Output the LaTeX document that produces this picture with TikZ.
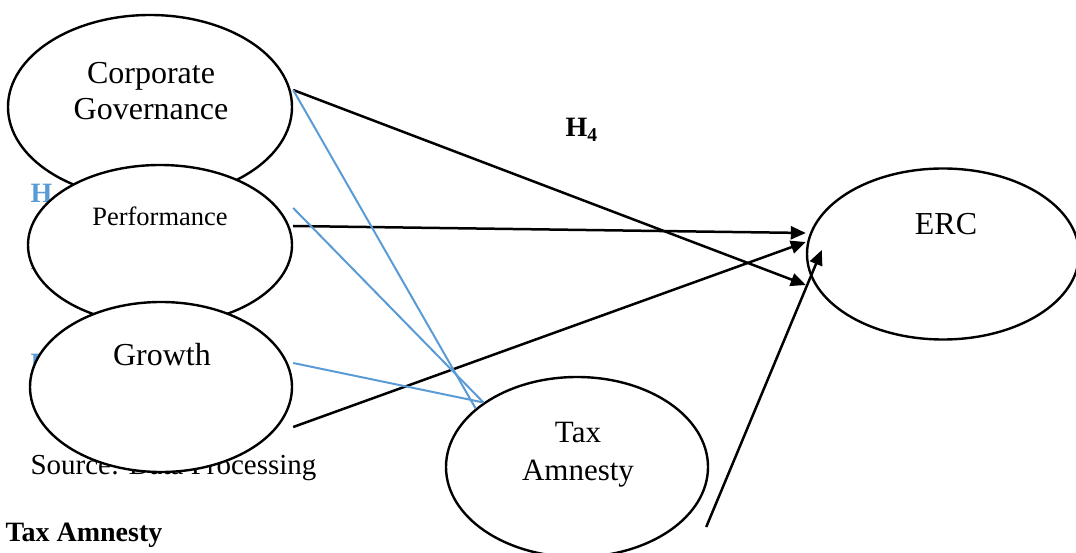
\documentclass[tikz,border=0pt]{standalone}
\usepackage{fontspec}
\setmainfont{Liberation Serif}
\usetikzlibrary{arrows.meta,shapes.geometric}
\definecolor{hblue}{RGB}{91,155,213}

\begin{document}
\begin{tikzpicture}[
        x=1pt, y=-1pt,
        construct/.style={ellipse, draw, line width=2.4pt, fill=white, inner sep=0pt},
        construct_text/.style={anchor=base, align=center, font=\fontsize{32}{36}\selectfont},
        hyp_label/.style={anchor=base west, font=\fontsize{28}{30}\selectfont\bfseries, text=hblue},
        path_line/.style={line width=2.5pt, -{Triangle[length=15pt,width=13pt]}},
        mod_line/.style={line width=2pt, draw=hblue}
    ]
        \useasboundingbox (0,0) rectangle (1076,553);

        % labels that sit behind the ovals
        \node[hyp_label] (h1) at (27,203) {H\textsubscript{1}};
        \node[hyp_label] (h2) at (27,270) {H\textsubscript{2}};
        \node[hyp_label] (h3) at (27,372) {H\textsubscript{3}};
        \node[anchor=base west, font=\fontsize{29}{32}\selectfont] (source) at (27,474) {Source: Data Processing};

        % independent variables
        \node[construct, minimum width=284pt, minimum height=184pt] (corpgov) at (150,107) {};
        \node[construct_text] (corpgov_txt) at (151,120) {Corporate\\Governance};
        \node[construct, minimum width=264pt, minimum height=160pt] (perf) at (160,245) {};
        \node[construct_text, font=\fontsize{26.5}{30}\selectfont] (perf_txt) at (160,226) {Performance};
        \node[construct, minimum width=262pt, minimum height=170pt] (growth) at (161,387) {};
        \node[construct_text] (growth_txt) at (162,365) {Growth};

        % dependent variable and moderator
        \node[construct, minimum width=272pt, minimum height=171pt] (erc) at (943,254) {};
        \node[construct_text] (erc_txt) at (946,235) {ERC};
        \node[construct, minimum width=262pt, minimum height=180pt] (tax) at (577,467) {};
        \node[construct_text, font=\fontsize{31}{38}\selectfont] (tax_txt) at (578,480) {Tax\\Amnesty};

        \node[anchor=base west, font=\fontsize{28}{30}\selectfont\bfseries] (h4) at (562,137) {H\textsubscript{4}};
        \node[anchor=base west, font=\fontsize{28}{30}\selectfont\bfseries] (mod_title) at (2,541) {Tax Amnesty};

        % direct effects
        \draw[path_line] ([yshift=17pt]corpgov.east) -- ([yshift=-31pt]erc.west);
        \draw[path_line] ([yshift=19pt]perf.east) -- ([yshift=21pt]erc.west);
        \draw[path_line] ([yshift=-40pt]growth.east) -- ([yshift=12pt]erc.west);
        \draw[path_line] ([xshift=-3pt,yshift=-60pt]tax.east) -- ([xshift=16pt,yshift=4pt]erc.west);

        % moderating lines
        \draw[mod_line] ([yshift=17pt]corpgov.east) -- (tax.150);
        \draw[mod_line] ([yshift=37pt]perf.east) -- (tax.north west);
        \draw[mod_line] ([yshift=24pt]growth.east) -- (tax.north west);

    \end{tikzpicture}
\end{document}
